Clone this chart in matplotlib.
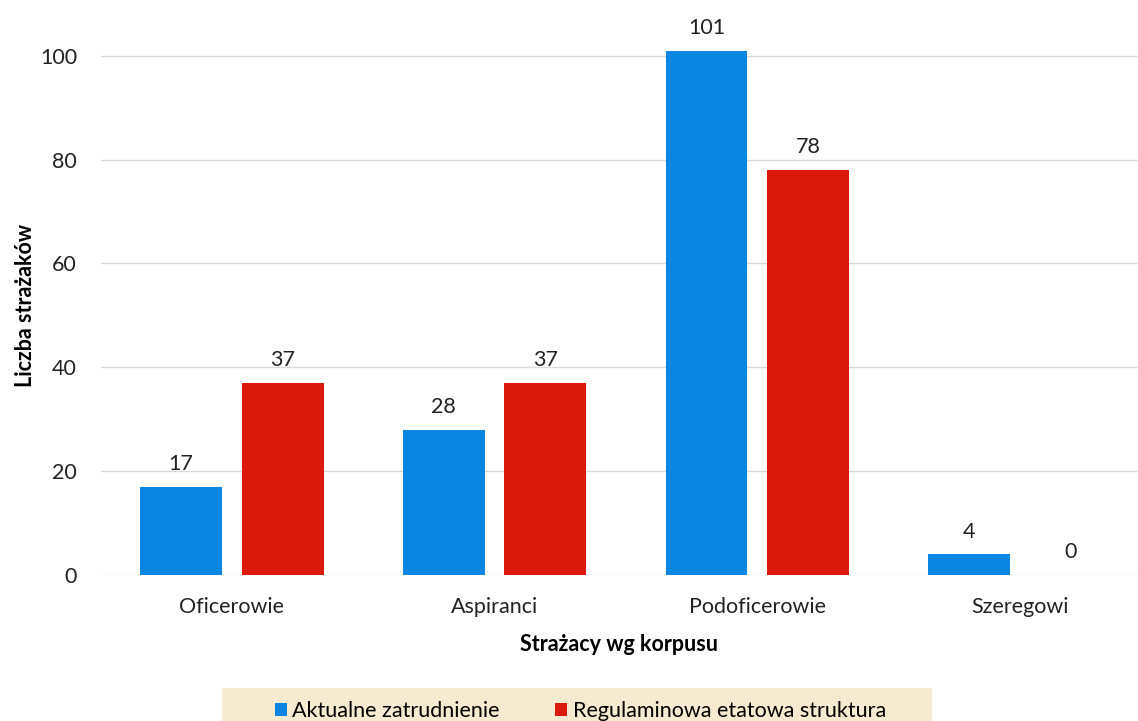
import numpy as np
from matplotlib import pyplot as plt

categories = ['Oficerowie', 'Aspiranci', 'Podoficerowie', 'Szeregowi']
aktualne = [17, 28, 101, 4]
regulaminowa = [37, 37, 78, 0]
series_names = ['Aktualne zatrudnienie', 'Regulaminowa etatowa struktura']

blue = '#0a86e2'
red = '#dc1a0c'
fs = 15.5

plt.rcParams['font.family'] = ['Lato', 'DejaVu Sans']

fig = plt.figure(figsize=(11.38, 7.21), dpi=100)
ax = fig.add_axes([0.0884, 0.2025, 0.9116, 0.749])

x = np.arange(len(categories))
w = 0.312
off = 0.193
b1 = ax.bar(x - off, aktualne, w, color=blue, label=series_names[0], zorder=3)
b2 = ax.bar(x + off, regulaminowa, w, color=red, label=series_names[1], zorder=3)

for bars in (b1, b2):
    for rect in bars:
        h = rect.get_height()
        ax.annotate(f'{h:g}', (rect.get_x() + rect.get_width() / 2, h),
                    textcoords='offset points', xytext=(0, 9), ha='center',
                    va='bottom', fontsize=fs, color='#222222')

ax.set_xlim(-0.5, 3.45)
ax.set_ylim(0, 104)
ax.set_yticks([0, 20, 40, 60, 80, 100])
ax.set_xticks(x)
ax.set_xticklabels(categories)
ax.tick_params(axis='both', length=0, labelsize=fs, colors='#222222')
ax.tick_params(axis='y', pad=17)
ax.tick_params(axis='x', pad=16)
ax.grid(axis='y', color='#d9d9d9', lw=1, zorder=0)
for s in ax.spines.values():
    s.set_visible(False)

ax.set_xlabel('Strażacy wg korpusu', fontsize=fs, fontweight='bold', labelpad=12)
ax.set_ylabel('Liczba strażaków', fontsize=fs, fontweight='bold', labelpad=3)

fig.patches.append(plt.Rectangle((0.195, 0.0), 0.624, 0.046, transform=fig.transFigure,
                                 facecolor='#f6ead0', edgecolor='none', zorder=0))
fig.legend(handles=[b1, b2], loc='center', bbox_to_anchor=(0.51, 0.014), ncol=2,
           frameon=False, fontsize=fs, handlelength=0.55, handleheight=0.55,
           handletextpad=0.25, columnspacing=2.6)

fig.savefig('out.png', dpi=100)
